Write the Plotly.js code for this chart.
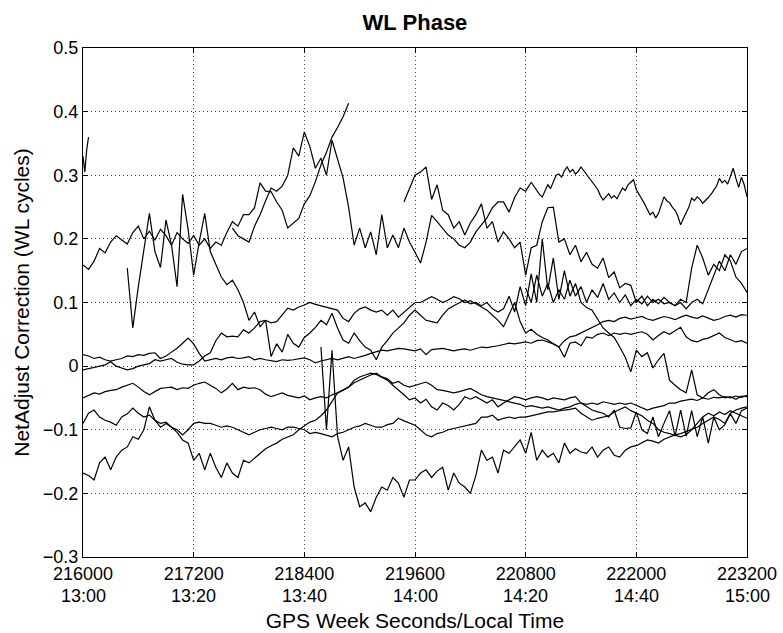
<!DOCTYPE html>
<html>
<head>
<meta charset="utf-8">
<script src="https://cdn.plot.ly/plotly-3.0.1.min.js"></script>
<style>
  html, body { margin: 0; padding: 0; background: #fff; }
  #chart { width: 783px; height: 633px; }
</style>
</head>
<body>
<div id="chart"></div>
<script>
// ---------------- DATA ----------------
// Epoch grid: GPS week seconds, 60 s between samples
const T0 = 216000;
const DT = 60;

// x-axis ticks (GPS seconds) and local-time labels
const tickSeconds = [216000, 217200, 218400, 219600, 220800, 222000, 223200];
const tickSecondLabels = ["216000", "217200", "218400", "219600", "220800", "222000", "223200"];
const tickTimeLabels = ["13:00", "13:20", "13:40", "14:00", "14:20", "14:40", "15:00"];
const yTicks = [-0.3, -0.2, -0.1, 0, 0.1, 0.2, 0.3, 0.4, 0.5];

// short arc at the very start (own time stamps)
const satA_time = [216000, 216020, 216040, 216060];
const satA = [0.33, 0.305, 0.34, 0.36];

// each satellite: start epoch index + WL correction values (cycles)
const satB_start = 0;
const satB = [
  0.159, 0.152, 0.165, 0.185, 0.178, 0.195, 0.205, 0.198, 0.192, 0.21,
  0.22, 0.2, 0.212, 0.198, 0.215, 0.205, 0.19, 0.21, 0.2, 0.193,
  0.205, 0.19, 0.2, 0.185, 0.195, 0.19, 0.21, 0.227, 0.22, 0.238,
  0.238, 0.249, 0.288, 0.275, 0.274, 0.258, 0.245, 0.217, 0.225, 0.232,
  0.255, 0.268, 0.29, 0.316, 0.336, 0.36, 0.375, 0.392, 0.413
];

const satC_start = 8;
const satC = [
  0.154, 0.06, 0.125, 0.186, 0.24, 0.18, 0.155, 0.23, 0.19, 0.125, 0.27, 0.215,
  0.143, 0.195, 0.24, 0.18, 0.16, 0.14, 0.128, 0.135, 0.12, 0.1,
  0.072, 0.085, 0.062, 0.072, 0.015, 0.035, 0.022, 0.05, 0.036, 0.03,
  0.045, 0.052, 0.061, 0.072, 0.065, 0.083, 0.06, 0.041, 0.036, 0.052,
  0.04, 0.03, 0.025, 0.01, 0.03, 0.04, 0.052, 0.06, 0.068, 0.08,
  0.088, 0.08, 0.072, 0.07, 0.068, 0.08, 0.09, 0.095, 0.1, 0.104,
  0.098, 0.1, 0.095, 0.1, 0.09, 0.085, 0.09, 0.11, 0.085, 0.125,
  0.095, 0.145, 0.1, 0.2, 0.12, 0.17, 0.105, 0.15, 0.11, 0.13,
  0.1, 0.092, 0.088, 0.075, 0.06, 0.052, 0.045, 0.03, 0.014, -0.009,
  0.025, 0.015, 0.021, -0.003, 0.01, 0.02, -0.022, -0.03, -0.037, -0.042,
  -0.006, -0.045, -0.05, -0.042, -0.037, -0.045, -0.05, -0.048, -0.052, -0.047, -0.048
];

// rising arc that peaks near 218700 and then drops (60 s samples)
const satP_start = 27;
const satP = [
  0.217, 0.205, 0.2,
  0.195, 0.22, 0.238, 0.26, 0.28, 0.275, 0.283, 0.3, 0.343, 0.33,
  0.368, 0.345, 0.311, 0.327, 0.3, 0.355, 0.327, 0.296, 0.25, 0.19,
  0.217, 0.186, 0.211, 0.175, 0.238, 0.186, 0.206, 0.186, 0.217, 0.195,
  0.179, 0.162, 0.195, 0.237, 0.227, 0.217, 0.206, 0.2, 0.19, 0.186,
  0.195, 0.211, 0.222, 0.233, 0.249, 0.258, 0.258, 0.242, 0.265, 0.28,
  0.275, 0.289
];

// same satellite from 220860 on, logged every 30 s
const satT_t0 = 220860;
const satT_dt = 30;
const satT = [
  0.289, 0.282, 0.275, 0.27, 0.266, 0.276, 0.285, 0.279, 0.29, 0.3,
  0.302, 0.297, 0.307, 0.313, 0.305, 0.309, 0.302, 0.306, 0.313, 0.307,
  0.3, 0.294, 0.289, 0.284, 0.278, 0.268, 0.261, 0.266, 0.271, 0.264,
  0.268, 0.263, 0.272, 0.28, 0.276, 0.285, 0.289, 0.293, 0.277, 0.27,
  0.262, 0.255, 0.246, 0.238, 0.242, 0.233, 0.24, 0.255, 0.266, 0.26,
  0.257, 0.25, 0.245, 0.236, 0.222, 0.232, 0.242, 0.25, 0.264, 0.26,
  0.266, 0.262, 0.256, 0.26, 0.265, 0.27, 0.276, 0.283, 0.295, 0.288,
  0.292, 0.286, 0.298, 0.311, 0.295, 0.281, 0.297, 0.285, 0.266
];

const satR_start = 58;
const satR = [
  0.258, 0.28,
  0.3, 0.305, 0.313, 0.262, 0.285, 0.245, 0.238, 0.217, 0.227, 0.206,
  0.225, 0.238, 0.255, 0.217, 0.227, 0.195, 0.211, 0.2, 0.186, 0.195,
  0.143, 0.186, 0.19, 0.227, 0.249, 0.25, 0.195, 0.2, 0.175, 0.19,
  0.164, 0.179, 0.16, 0.154, 0.17, 0.139, 0.148, 0.123, 0.13, 0.127,
  0.1, 0.11, 0.095, 0.105, 0.098, 0.108, 0.1, 0.095, 0.105, 0.1,
  0.154, 0.19, 0.17, 0.143, 0.16, 0.15, 0.175, 0.165, 0.14, 0.13, 0.116
];

const satV_start = 80;
const satV = [
  0.123, 0.1, 0.143, 0.11, 0.13, 0.1, 0.12, 0.105, 0.135, 0.11,
  0.125, 0.1, 0.12, 0.108, 0.13, 0.105, 0.115, 0.1, 0.112, 0.095,
  0.105, 0.098, 0.11, 0.1, 0.105, 0.098, 0.1, 0.095, 0.1, 0.09,
  0.1, 0.105, 0.098, 0.12, 0.14, 0.165, 0.15, 0.175, 0.16, 0.18, 0.185
];

const satM1_start = 0;
const satM1 = [
  0.018, 0.016, 0.012, 0.014, 0.01, 0.008, 0.01, 0.012, 0.016, 0.015,
  0.018, 0.017, 0.02, 0.021, 0.012, 0.016, 0.022, 0.028, 0.036, 0.044,
  0.035, 0.02, 0.008, 0.01, 0.012, 0.01, 0.013, 0.014, 0.012, 0.013,
  0.015, 0.01, 0.012, 0.01, 0.008, 0.007, 0.01, 0.009, 0.01, 0.012,
  0.013, 0.01, 0.005, 0.008, 0.01, 0.012, 0.01, 0.013, 0.015, 0.012,
  0.014, 0.017, 0.02, 0.022, 0.025, 0.024, 0.026, 0.028, 0.027, 0.026,
  0.024, 0.027, 0.018, 0.026, 0.027, 0.028, 0.026, 0.024, 0.026, 0.027,
  0.025, 0.028, 0.03, 0.029, 0.03, 0.032, 0.034, 0.036, 0.035, 0.036,
  0.038, 0.036, 0.04, 0.041, 0.038, 0.035, 0.03, 0.014, 0.036, 0.038,
  0.032, 0.046, 0.044, 0.05, 0.052, 0.048, 0.052, 0.05, 0.052, 0.05,
  0.052, 0.054, 0.05, 0.041, 0.048, 0.054, 0.05, 0.056, 0.061, 0.046,
  0.04, 0.038, 0.042, 0.044, 0.048, 0.052, 0.045, 0.041, 0.038, 0.04, 0.036
];

const satM2_start = 0;
const satM2 = [
  -0.006, -0.004, -0.003, 0.0, 0.002, 0.007, 0.0, -0.003, -0.006, -0.004,
  0.0, 0.002, 0.004, 0.01, 0.008, 0.01, 0.012, 0.006, 0.003, 0.002,
  0.002, 0.008, 0.016, 0.021, 0.04, 0.052, 0.046, 0.047, 0.046, 0.057,
  0.052, 0.06, 0.07, 0.072, 0.068, 0.07, 0.08, 0.091, 0.088, 0.093,
  0.096, 0.1, 0.097, 0.095, 0.093, 0.09, 0.088, 0.075, 0.07, 0.083,
  0.09, 0.093, 0.088, 0.085, 0.088, 0.08, 0.088, 0.077, 0.085, 0.093,
  0.1, 0.1, 0.104, 0.109, 0.105, 0.1, 0.104, 0.109, 0.106, 0.1,
  0.103, 0.098, 0.093, 0.088, 0.08, 0.072, 0.062, 0.08, 0.1, 0.07,
  0.052, 0.058, 0.05, 0.045, 0.041, 0.035, 0.03, 0.04, 0.046, 0.048,
  0.052, 0.056, 0.06, 0.065, 0.07, 0.072, 0.07, 0.075, 0.077, 0.074,
  0.076, 0.078, 0.074, 0.072, 0.075, 0.078, 0.076, 0.073, 0.077, 0.08,
  0.077, 0.075, 0.079, 0.076, 0.072, 0.074, 0.078, 0.08, 0.077, 0.081, 0.08
];

const satL_start = 0;
const satL = [
  -0.05, -0.046, -0.042, -0.044, -0.04, -0.038, -0.037, -0.033, -0.03, -0.027,
  -0.033, -0.04, -0.045, -0.04, -0.035, -0.034, -0.033, -0.037, -0.034, -0.035,
  -0.03, -0.027, -0.025, -0.03, -0.035, -0.042, -0.036, -0.027, -0.037, -0.033,
  -0.035, -0.034, -0.037, -0.044, -0.048, -0.045, -0.042, -0.046, -0.048, -0.05,
  -0.047, -0.053, -0.05, -0.048, -0.05, -0.045, -0.042, -0.038, -0.033, -0.026,
  -0.022, -0.017, -0.014, -0.011, -0.017, -0.02, -0.027, -0.024, -0.03, -0.033,
  -0.03, -0.027, -0.025, -0.03, -0.037, -0.038, -0.04, -0.042, -0.04, -0.037,
  -0.035, -0.04, -0.045, -0.048, -0.05, -0.053, -0.055, -0.056, -0.058, -0.06,
  -0.064, -0.062, -0.064, -0.066, -0.064, -0.067, -0.069, -0.066, -0.064, -0.06,
  -0.058, -0.06, -0.058, -0.06, -0.056, -0.058, -0.06, -0.058, -0.06, -0.058,
  -0.062, -0.065, -0.069, -0.066, -0.064, -0.062, -0.058, -0.058, -0.055, -0.053,
  -0.052, -0.054, -0.05, -0.052, -0.049, -0.05, -0.048, -0.05, -0.047, -0.049, -0.046
];

const satG_start = 0;
const satG = [
  -0.168, -0.172, -0.179, -0.152, -0.143, -0.163, -0.143, -0.132, -0.127, -0.111,
  -0.115, -0.1, -0.064, -0.085, -0.09, -0.088, -0.096, -0.104, -0.116, -0.121,
  -0.148, -0.137, -0.163, -0.137, -0.159, -0.175, -0.152, -0.168, -0.175, -0.148,
  -0.152, -0.145, -0.137, -0.13, -0.125, -0.121, -0.115, -0.111, -0.108, -0.1,
  -0.094, -0.088, -0.085, -0.078, -0.069, -0.055, -0.042, -0.038, -0.033, -0.022,
  -0.017, -0.014, -0.011, -0.013, -0.017, -0.022, -0.03, -0.037, -0.045, -0.053,
  -0.05, -0.058, -0.052, -0.064, -0.069, -0.058, -0.062, -0.069, -0.06, -0.048,
  -0.052, -0.048, -0.053, -0.058, -0.053, -0.064, -0.058, -0.053, -0.048, -0.05,
  -0.053, -0.05, -0.048, -0.05, -0.053, -0.05, -0.052, -0.053, -0.05, -0.048,
  -0.058, -0.064, -0.069, -0.072, -0.074, -0.08, -0.069, -0.096, -0.098, -0.097,
  -0.072, -0.1, -0.106, -0.08, -0.111, -0.09, -0.07, -0.11, -0.069, -0.11,
  -0.07, -0.111, -0.08, -0.121, -0.08, -0.1, -0.092, -0.075, -0.09, -0.07, -0.066
];

const satH_start = 0;
const satH = [
  -0.09, -0.074, -0.069, -0.08, -0.085, -0.088, -0.093, -0.08, -0.075, -0.066,
  -0.074, -0.08, -0.077, -0.085, -0.096, -0.09, -0.096, -0.1, -0.108, -0.1,
  -0.09, -0.088, -0.09, -0.09, -0.093, -0.096, -0.094, -0.096, -0.1, -0.104,
  -0.108, -0.104, -0.1, -0.098, -0.096, -0.098, -0.1, -0.096, -0.096, -0.098,
  -0.1, -0.106, -0.104, -0.106, -0.108, -0.111, -0.106, -0.104, -0.1, -0.096,
  -0.094, -0.09, -0.093, -0.096, -0.096, -0.092, -0.09, -0.082, -0.086, -0.09,
  -0.093, -0.1, -0.108, -0.111, -0.106, -0.104, -0.1, -0.098, -0.096, -0.094,
  -0.092, -0.09, -0.08, -0.08, -0.077, -0.085, -0.082, -0.08, -0.082, -0.08,
  -0.08, -0.078, -0.076, -0.074, -0.072, -0.072, -0.07, -0.069, -0.068, -0.066,
  -0.074, -0.08, -0.085, -0.082, -0.08, -0.078, -0.072, -0.068, -0.064, -0.07,
  -0.074, -0.078, -0.085, -0.09, -0.1, -0.104, -0.106, -0.108, -0.111, -0.108,
  -0.1, -0.09, -0.08, -0.074, -0.078, -0.072, -0.076, -0.07, -0.074, -0.078, -0.082
];

const satF_start = 43;
const satF = [
  0.03, -0.1, 0.025, -0.11, -0.148, -0.127, -0.19,
  -0.221, -0.215, -0.229, -0.206, -0.19, -0.195, -0.175, -0.184, -0.206, -0.179,
  -0.179, -0.168, -0.163, -0.175, -0.165, -0.159, -0.195, -0.168, -0.184, -0.19,
  -0.2, -0.172, -0.132, -0.148, -0.143, -0.168, -0.132, -0.137, -0.127, -0.116,
  -0.137, -0.104, -0.148, -0.132, -0.143, -0.137, -0.152, -0.121, -0.137, -0.13,
  -0.135, -0.137, -0.127, -0.143, -0.132, -0.127, -0.14, -0.143, -0.132, -0.127,
  -0.125, -0.121, -0.116, -0.118, -0.121, -0.115, -0.111, -0.108, -0.106, -0.103,
  -0.1, -0.096, -0.09, -0.085, -0.08, -0.084, -0.09, -0.074, -0.069, -0.066, -0.064
];

// ---------------- CHART ----------------
function epochTimes(startIndex, values) {
  return values.map(function (_, k) { return T0 + DT * (startIndex + k); });
}
function stampTimes(t0, dt, values) {
  return values.map(function (_, k) { return t0 + dt * k; });
}

const FONT = "Liberation Sans, Arial, Helvetica, sans-serif";
const lineStyle = { color: "#000000", width: 1.2 };

const series = [
  [epochTimes(satB_start, satB), satB],
  [epochTimes(satC_start, satC), satC],
  [epochTimes(satP_start, satP), satP],
  [stampTimes(satT_t0, satT_dt, satT), satT],
  [epochTimes(satR_start, satR), satR],
  [epochTimes(satV_start, satV), satV],
  [epochTimes(satM1_start, satM1), satM1],
  [epochTimes(satM2_start, satM2), satM2],
  [epochTimes(satL_start, satL), satL],
  [epochTimes(satG_start, satG), satG],
  [epochTimes(satH_start, satH), satH],
  [epochTimes(satF_start, satF), satF],
  [satA_time, satA]
];

const traces = series.map(function (s) {
  return { x: s[0], y: s[1], type: "scatter", mode: "lines", line: lineStyle, hoverinfo: "skip", showlegend: false };
});

const timeAnnotations = tickSeconds.map(function (t, k) {
  return {
    x: t, xref: "x", y: 0, yref: "paper", yanchor: "top", xanchor: "center",
    yshift: -27, showarrow: false, text: tickTimeLabels[k],
    font: { family: FONT, size: 18, color: "#000" }
  };
});

const axisCommon = {
  ticks: "inside", ticklen: 5, tickwidth: 1, tickcolor: "#000",
  showline: true, linecolor: "#000", linewidth: 1, mirror: "ticks",
  showgrid: true, gridcolor: "#444", gridwidth: 1, griddash: "1px,3px",
  zeroline: false,
  tickfont: { family: FONT, size: 18, color: "#000" }
};

const layout = {
  width: 783, height: 633,
  margin: { l: 83, r: 36, t: 48, b: 76 },
  paper_bgcolor: "#fff", plot_bgcolor: "#fff",
  showlegend: false,
  title: {
    text: "<b>WL Phase</b>",
    font: { family: FONT, size: 22, color: "#000" },
    x: 0.53, xanchor: "center", y: 0.964, yanchor: "middle", yref: "container"
  },
  xaxis: Object.assign({}, axisCommon, {
    range: [216000, 223200],
    tickmode: "array", tickvals: tickSeconds, ticktext: tickSecondLabels,
    title: { text: "GPS Week Seconds/Local Time", font: { family: FONT, size: 21, color: "#000" }, standoff: 30 }
  }),
  yaxis: Object.assign({}, axisCommon, {
    range: [-0.3, 0.5],
    tickmode: "array", tickvals: yTicks,
    title: { text: "NetAdjust Correction (WL cycles)", font: { family: FONT, size: 21, color: "#000" }, standoff: 7 }
  }),
  annotations: timeAnnotations
};

Plotly.newPlot("chart", traces, layout, { staticPlot: true, displayModeBar: false });
</script>
</body>
</html>
